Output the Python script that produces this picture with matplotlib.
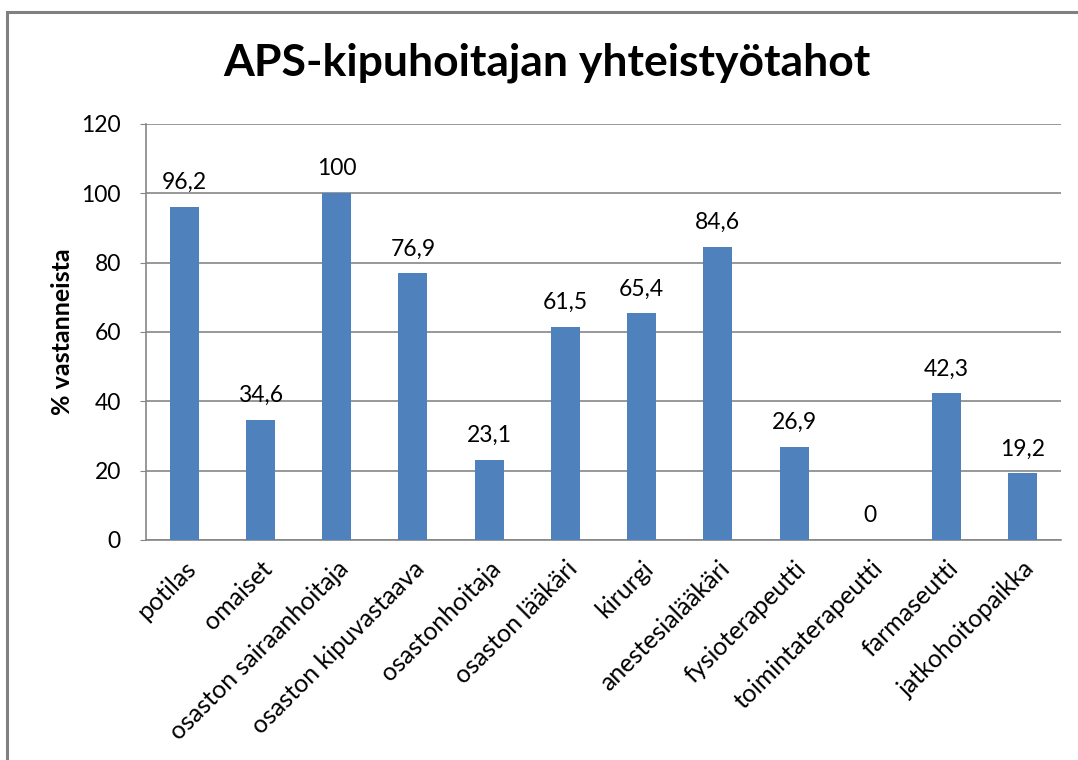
import matplotlib
matplotlib.use("Agg")
import matplotlib.pyplot as plt
from matplotlib.patches import Rectangle

categories = ["potilas", "omaiset", "osaston sairaanhoitaja", "osaston kipuvastaava",
              "osastonhoitaja", "osaston lääkäri", "kirurgi", "anestesialääkäri",
              "fysioterapeutti", "toimintaterapeutti", "farmaseutti", "jatkohoitopaikka"]
values = [96.2, 34.6, 100, 76.9, 23.1, 61.5, 65.4, 84.6, 26.9, 0, 42.3, 19.2]
value_labels = ["96,2", "34,6", "100", "76,9", "23,1", "61,5", "65,4", "84,6", "26,9", "0", "42,3", "19,2"]
yticks = [0, 20, 40, 60, 80, 100, 120]

plt.rcParams['font.family'] = ['Lato', 'DejaVu Sans']

W, H = 1078, 760
fig = plt.figure(figsize=(W / 100, H / 100), dpi=100)
fig.patch.set_facecolor('white')

# outer chart frame (cropped on right and bottom)
fig.patches.append(Rectangle((7 / W, -0.1), 1.2, 1 - 12 / H + 0.1, transform=fig.transFigure,
                             fill=False, edgecolor='#808080', linewidth=2.2, zorder=0))

ax = fig.add_axes([146 / W, 1 - 540 / H, (1061 - 146) / W, (540 - 124) / H])
x = list(range(len(categories)))
ax.bar(x, values, width=0.38, color='#4F81BD', zorder=3)
ax.set_ylim(0, 120)
ax.set_xlim(-0.5, len(categories) - 0.5)
ax.set_yticks(yticks)
ax.set_yticklabels([str(t) for t in yticks], fontsize=16.5)
ax.yaxis.grid(True, color='#868686', linewidth=1.2, zorder=0)
ax.set_axisbelow(True)
for s in ['top', 'right']:
    ax.spines[s].set_visible(False)
for s in ['left', 'bottom']:
    ax.spines[s].set_color('#868686')
    ax.spines[s].set_linewidth(1.2)
ax.tick_params(axis='y', length=4, color='#868686', pad=14)
ax.tick_params(axis='x', length=0, pad=12)
ax.set_xticks(x)
ax.set_xticklabels(categories, rotation=45, ha='right', va='top', rotation_mode='anchor', fontsize=18)

for xi, v, lab in zip(x, values, value_labels):
    ax.annotate(lab, (xi, v), xytext=(0, 10), textcoords='offset points',
                ha='center', va='bottom', fontsize=16.5)

ax.set_ylabel('% vastanneista', fontsize=18, fontweight='bold', labelpad=5)
fig.text(0.507, 1 - 63 / H, 'APS-kipuhoitajan yhteistyötahot', ha='center', va='center',
         fontsize=32, fontweight='bold')

fig.savefig('out.png', dpi=100)
